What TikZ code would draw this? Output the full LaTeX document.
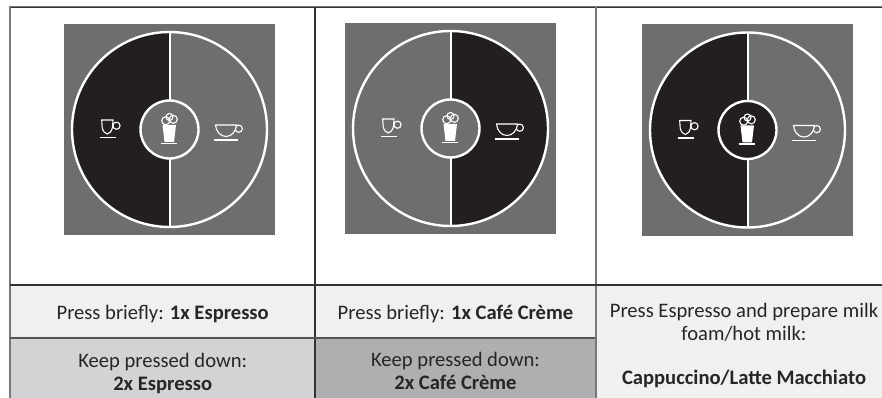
\documentclass[tikz,border=0pt]{standalone}
\usepackage{fontspec}
\setmainfont{Carlito}
\definecolor{panelgray}{HTML}{6D6E70}
\definecolor{paneldark}{HTML}{231F20}
\definecolor{celllight}{HTML}{F0F0F0}
\definecolor{cellmid}{HTML}{D2D3D5}
\definecolor{celldark}{HTML}{AEAFB1}
\definecolor{rulegray}{HTML}{77787A}
\definecolor{ruledark}{HTML}{333333}
\tikzset{
  ring/.style={draw=white, line width=2.4pt},
  icon/.style={draw=white, line width=1.1pt},
  saucer/.style={draw=white, line width=1.5pt},
  celltext/.style={align=center, text=black!85, font=\fontsize{20.6}{23}\selectfont},
}
\begin{document}
\begin{tikzpicture}[x=1pt, y=-1pt]
  \useasboundingbox (0,0) rectangle (882,398);

  \def\hw{105.5}   % half width of a panel
  \def\ro{97.5}    % outer ring radius
  \def\ri{29}      % inner ring radius

  % ----------------------------------------------------------------
  % Cell backgrounds
  % ----------------------------------------------------------------
  \fill[celllight] (10,285) rectangle (882,398);
  \fill[cellmid]   (10,338) rectangle (315,398);
  \fill[celldark]  (315,338) rectangle (595,398);

  % ----------------------------------------------------------------
  % Table rules
  % ----------------------------------------------------------------
  \draw[rulegray, line width=1.6pt] (9,6.6) -- (882,6.6);
  \draw[ruledark, line width=1pt] (10,8) -- (882,8);
  \draw[rulegray, line width=2pt] (10,7) -- (10,398);
  \draw[rulegray, line width=2pt] (595.5,7) -- (595.5,398);
  \draw[ruledark, line width=1.2pt] (315,7) -- (315,398);
  \draw[ruledark, line width=1.1pt] (10,285) -- (882,285);
  \draw[rulegray!70!black, line width=1.1pt] (10,338) -- (595,338);

  % ----------------------------------------------------------------
  % Panels: centre x, centre y, left half, right half, hub
  % ----------------------------------------------------------------
  \foreach \cx/\cy/\fl/\fr/\fc in {%
    169.5/129.5/paneldark/panelgray/panelgray,
    450.5/128.5/panelgray/paneldark/panelgray,
    747.5/130/paneldark/panelgray/paneldark}{
    \begin{scope}[shift={(\cx,\cy)}]
      \fill[panelgray] (-\hw,-\hw) rectangle (\hw,\hw);
      \fill[\fl] (0,-\ro) arc[start angle=-90, end angle=-270, radius=\ro] -- cycle;
      \fill[\fr] (0,-\ro) arc[start angle=-90, end angle=90, radius=\ro] -- cycle;
      \draw[ring] (0,0) circle[radius=\ro];
      \draw[ring, line width=2pt] (0,-\ro) -- (0,\ro);
      \filldraw[ring, fill=\fc] (0,0) circle[radius=\ri];

      % small cup
      \draw[icon] (-53,-3.8) circle[radius=3.6];
      \filldraw[icon, fill=\fl] (-67.8,-9.5) -- (-56.5,-9.5) -- (-57,-2) .. controls (-58,2) and (-60,4) .. (-62.2,4.5)
        .. controls (-64.5,4) and (-66.5,2) .. (-67.3,-2) -- cycle;
      \draw[saucer] (-69.5,8.2) -- (-53.5,8.2);

      % large cup
      \draw[icon] (69.3,-0.8) circle[radius=3.6];
      \filldraw[icon, fill=\fr] (46,-4.5) -- (67,-4.5) .. controls (66.5,2) and (62,7) .. (56.5,7)
        .. controls (51,7) and (46.5,2) .. cycle;
      \draw[saucer] (44,10.5) -- (68,10.5);

      % milk glass
      \fill[white] (-7,-4.5) -- (6.5,-4.5) -- (4.5,12.5) -- (-5,12.5) -- cycle;
      \draw[saucer] (-9,14) -- (7.5,14);
      \draw[icon] (-3.8,-8.8) circle[radius=4];
      \draw[icon] (3.8,-10.2) circle[radius=4];
      \draw[icon] (0,-12.5) circle[radius=3.5];
    \end{scope}
  }

  % ----------------------------------------------------------------
  % Captions
  % ----------------------------------------------------------------
  \node[celltext] (brief1) at (162.7,314) {Press briefly: \textbf{1x Espresso}};
  \node[celltext] (keep1)  at (162.7,373) {Keep pressed down:\\\textbf{2x Espresso}};
  \node[celltext] (brief2) at (455.5,314) {Press briefly: \textbf{1x Café Crème}};
  \node[celltext] (keep2)  at (455.5,370.5) {Keep pressed down:\\\textbf{2x Café Crème}};
  \node[celltext] (brief3) at (744,322) {Press Espresso and prepare milk\\foam/hot milk:};
  \node[celltext] (keep3)  at (744,379) {\textbf{Cappuccino/Latte Macchiato}};

\end{tikzpicture}
\end{document}
